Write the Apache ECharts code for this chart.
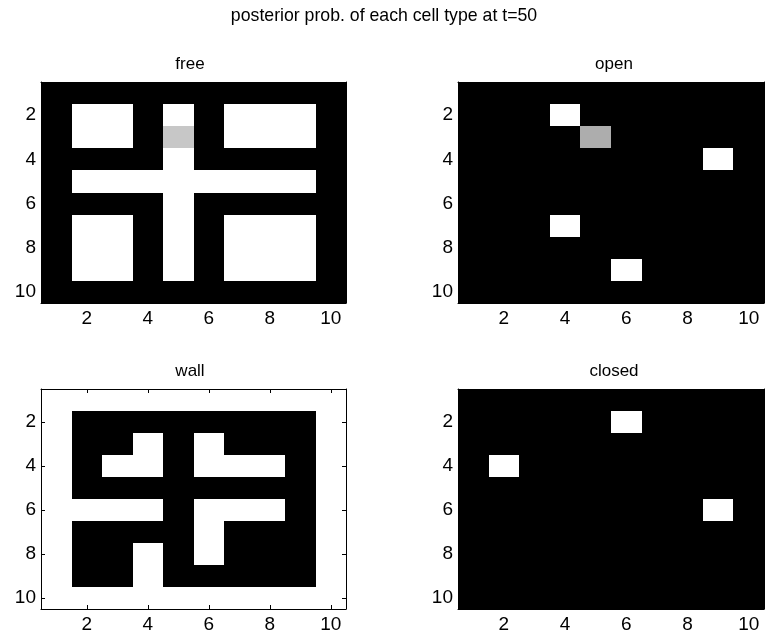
<!DOCTYPE html>
<html>
<head>
<meta charset="utf-8">
<script src="https://cdn.jsdelivr.net/npm/echarts@6/dist/echarts.min.js"></script>
<style>
  html, body { margin: 0; padding: 0; background: #fff; }
  #main { width: 765px; height: 642px; }
</style>
</head>
<body>
<div id="main"></div>
<script>
// cell labels 1..10 and the ticks that get a label
var cells = ['1', '2', '3', '4', '5', '6', '7', '8', '9', '10'];
var tickLabels = ['2', '4', '6', '8', '10'];

var mainTitle = 'posterior prob. of each cell type at t=50';
var panelTitles = ['free', 'open', 'wall', 'closed'];

// rows top->bottom, columns left->right
var freeProb = [
  [0, 0, 0, 0, 0, 0, 0, 0, 0, 0],
  [0, 1, 1, 0, 1, 0, 1, 1, 1, 0],
  [0, 1, 1, 0, 0.78, 0, 1, 1, 1, 0],
  [0, 0, 0, 0, 1, 0, 0, 0, 0, 0],
  [0, 1, 1, 1, 1, 1, 1, 1, 1, 0],
  [0, 0, 0, 0, 1, 0, 0, 0, 0, 0],
  [0, 1, 1, 0, 1, 0, 1, 1, 1, 0],
  [0, 1, 1, 0, 1, 0, 1, 1, 1, 0],
  [0, 1, 1, 0, 1, 0, 1, 1, 1, 0],
  [0, 0, 0, 0, 0, 0, 0, 0, 0, 0]
];
var openProb = [
  [0, 0, 0, 0, 0, 0, 0, 0, 0, 0],
  [0, 0, 0, 1, 0, 0, 0, 0, 0, 0],
  [0, 0, 0, 0, 0.68, 0, 0, 0, 0, 0],
  [0, 0, 0, 0, 0, 0, 0, 0, 1, 0],
  [0, 0, 0, 0, 0, 0, 0, 0, 0, 0],
  [0, 0, 0, 0, 0, 0, 0, 0, 0, 0],
  [0, 0, 0, 1, 0, 0, 0, 0, 0, 0],
  [0, 0, 0, 0, 0, 0, 0, 0, 0, 0],
  [0, 0, 0, 0, 0, 1, 0, 0, 0, 0],
  [0, 0, 0, 0, 0, 0, 0, 0, 0, 0]
];
var wallProb = [
  [1, 1, 1, 1, 1, 1, 1, 1, 1, 1],
  [1, 0, 0, 0, 0, 0, 0, 0, 0, 1],
  [1, 0, 0, 1, 0, 1, 0, 0, 0, 1],
  [1, 0, 1, 1, 0, 1, 1, 1, 0, 1],
  [1, 0, 0, 0, 0, 0, 0, 0, 0, 1],
  [1, 1, 1, 1, 0, 1, 1, 1, 0, 1],
  [1, 0, 0, 0, 0, 1, 0, 0, 0, 1],
  [1, 0, 0, 1, 0, 1, 0, 0, 0, 1],
  [1, 0, 0, 1, 0, 0, 0, 0, 0, 1],
  [1, 1, 1, 1, 1, 1, 1, 1, 1, 1]
];
var closedProb = [
  [0, 0, 0, 0, 0, 0, 0, 0, 0, 0],
  [0, 0, 0, 0, 0, 1, 0, 0, 0, 0],
  [0, 0, 0, 0, 0, 0, 0, 0, 0, 0],
  [0, 1, 0, 0, 0, 0, 0, 0, 0, 0],
  [0, 0, 0, 0, 0, 0, 0, 0, 0, 0],
  [0, 0, 0, 0, 0, 0, 0, 0, 1, 0],
  [0, 0, 0, 0, 0, 0, 0, 0, 0, 0],
  [0, 0, 0, 0, 0, 0, 0, 0, 0, 0],
  [0, 0, 0, 0, 0, 0, 0, 0, 0, 0],
  [0, 0, 0, 0, 0, 0, 0, 0, 0, 0]
];
var panels = [freeProb, openProb, wallProb, closedProb];

var font = 'Liberation Sans, Arial, Helvetica, sans-serif';
var grids = [
  { left: 41, top: 82, width: 305, height: 221 },
  { left: 458, top: 82, width: 306, height: 221 },
  { left: 41, top: 389, width: 305, height: 220 },
  { left: 458, top: 389, width: 306, height: 220 }
];
var titleX = [185, 609, 185, 609];

function toCells(m) {
  var out = [];
  for (var r = 0; r < m.length; r++) {
    for (var c = 0; c < m[r].length; c++) {
      out.push([c, r, m[r][c]]);
    }
  }
  return out;
}

function showIdx(idx, val) {
  return tickLabels.indexOf(val) >= 0;
}

// gray colormap, cells snapped to whole pixels so no seams show
function renderCell(params, api) {
  var p = api.coord([api.value(0), api.value(1)]);
  var s = api.size([1, 1]);
  var x0 = Math.round(p[0] - s[0] / 2), x1 = Math.round(p[0] + s[0] / 2);
  var y0 = Math.round(p[1] - s[1] / 2), y1 = Math.round(p[1] + s[1] / 2);
  var g = Math.round(api.value(2) * 255);
  return {
    type: 'rect',
    shape: { x: x0, y: y0, width: x1 - x0, height: y1 - y0 },
    style: { fill: 'rgb(' + g + ',' + g + ',' + g + ')' }
  };
}

var chart = echarts.init(document.getElementById('main'));

var titles = [{
  text: mainTitle,
  left: 379,
  top: 2,
  textAlign: 'center',
  textStyle: { fontFamily: font, fontSize: 17.7, fontWeight: 'normal', color: '#000' }
}];
var xAxes = [], yAxes = [], series = [];

grids.forEach(function (g, i) {
  titles.push({
    text: panelTitles[i],
    left: titleX[i],
    top: g.top - 31,
    textAlign: 'center',
    textStyle: { fontFamily: font, fontSize: 17, fontWeight: 'normal', color: '#000' }
  });
  [false, true].forEach(function (second) {
    xAxes.push({
      type: 'category',
      gridIndex: i,
      data: cells,
      position: second ? 'top' : 'bottom',
      z: 10,
      axisLine: { show: true, lineStyle: { color: '#000', width: 1 } },
      axisTick: { show: true, inside: true, length: 4, alignWithLabel: true, interval: showIdx, lineStyle: { color: '#000' } },
      axisLabel: { show: !second, interval: showIdx, margin: 6, fontFamily: font, fontSize: 19, color: '#000' },
      splitLine: { show: false }
    });
    yAxes.push({
      type: 'category',
      gridIndex: i,
      data: cells,
      inverse: true,
      position: second ? 'right' : 'left',
      z: 10,
      axisLine: { show: true, lineStyle: { color: '#000', width: 1 } },
      axisTick: { show: true, inside: true, length: 4, alignWithLabel: true, interval: showIdx, lineStyle: { color: '#000' } },
      axisLabel: { show: !second, interval: showIdx, margin: 5, fontFamily: font, fontSize: 19, color: '#000' },
      splitLine: { show: false }
    });
  });
  series.push({
    type: 'custom',
    xAxisIndex: i * 2,
    yAxisIndex: i * 2,
    renderItem: renderCell,
    encode: { x: 0, y: 1 },
    data: toCells(panels[i]),
    silent: true
  });
});

var option = {
  backgroundColor: '#fff',
  animation: false,
  title: titles,
  grid: grids,
  xAxis: xAxes,
  yAxis: yAxes,
  series: series
};
chart.setOption(option);
</script>
</body>
</html>
